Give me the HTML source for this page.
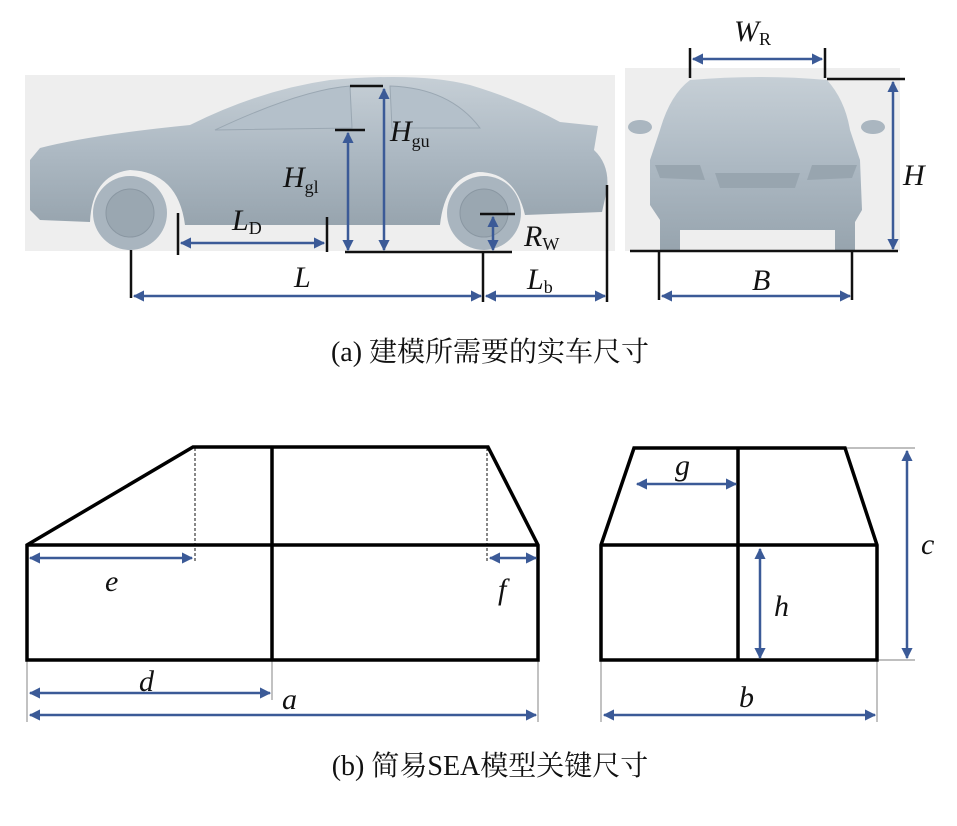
<!DOCTYPE html>
<html><head><meta charset="utf-8"><style>
html,body{margin:0;padding:0;background:#fff;}
svg{display:block;}
text{font-family:"Liberation Serif","Noto Serif CJK SC",serif;fill:#111;}
.it{font-style:italic;}
</style></head><body>
<svg width="957" height="826" viewBox="0 0 957 826" xmlns="http://www.w3.org/2000/svg">
<defs>
<marker id="a" viewBox="0 0 10 10" refX="9" refY="5" markerWidth="4.5" markerHeight="4.5" orient="auto-start-reverse"><path d="M0,0 L10,5 L0,10 z" fill="#3b5a97"/></marker>
<linearGradient id="car" x1="0" y1="0" x2="0" y2="1"><stop offset="0" stop-color="#c6cfd6"/><stop offset="0.5" stop-color="#adb9c3"/><stop offset="1" stop-color="#97a4ae"/></linearGradient>
</defs>
<rect x="25" y="75" width="590" height="176" fill="#eeeeee"/>
<path d="M30,160 L40,148 Q90,135 190,125 Q260,90 330,80 Q420,72 470,85 Q520,100 560,122 L598,126 L594,150 Q610,165 607,190 L602,212 L525,215 Q515,172 478,172 Q445,178 440,225 L185,225 Q178,172 130,170 Q92,175 90,222 L40,220 L30,210 Z" fill="url(#car)"/>
<circle cx="130" cy="213" r="37" fill="#a9b5bf"/><circle cx="130" cy="213" r="24" fill="#9aa7b1" stroke="#8a97a2"/>
<circle cx="484" cy="213" r="37" fill="#a9b5bf"/><circle cx="484" cy="213" r="24" fill="#9aa7b1" stroke="#8a97a2"/>
<path d="M215,130 Q300,90 350,86 L352,128 Z M390,86 Q450,88 480,128 L392,128 Z" fill="#b4c0ca" stroke="#9aa7b2"/>
<rect x="625" y="68" width="275" height="183" fill="#eeeeee"/>
<path d="M690,80 Q760,74 827,80 Q845,100 850,130 L860,160 L862,210 L855,222 L855,250 L835,250 L835,230 L680,230 L680,250 L660,250 L660,220 L650,205 L650,160 L660,130 Q670,95 690,80 Z" fill="url(#car)"/>
<ellipse cx="640" cy="127" rx="12" ry="7" fill="#aab6c0"/><ellipse cx="873" cy="127" rx="12" ry="7" fill="#aab6c0"/>
<path d="M715,173 L800,173 L795,188 L720,188 Z" fill="#98a5af"/>
<path d="M655,165 L700,165 L705,180 L660,178 Z M812,165 L857,165 L852,178 L807,180 Z" fill="#98a5af"/>
<g stroke="#111" stroke-width="2.5" fill="none">
<line x1="350" y1="86" x2="383" y2="86"/>
<line x1="335" y1="130" x2="365" y2="130"/>
<line x1="345" y1="252" x2="512" y2="252"/>
<line x1="178" y1="213" x2="178" y2="255"/>
<line x1="327" y1="217" x2="327" y2="252"/>
<line x1="480" y1="214" x2="515" y2="214"/>
<line x1="131" y1="250" x2="131" y2="298"/>
<line x1="483" y1="252" x2="483" y2="302"/>
<line x1="607" y1="185" x2="607" y2="302"/>
<line x1="690" y1="48" x2="690" y2="78"/>
<line x1="825" y1="48" x2="825" y2="78"/>
<line x1="827" y1="79" x2="905" y2="79"/>
<line x1="630" y1="251" x2="898" y2="251"/>
<line x1="659" y1="251" x2="659" y2="300"/>
<line x1="852" y1="251" x2="852" y2="300"/>
</g>
<g stroke="#3b5a97" stroke-width="2.5" fill="none" marker-start="url(#a)" marker-end="url(#a)">
<line x1="384" y1="89" x2="384" y2="250"/>
<line x1="348" y1="133" x2="348" y2="250"/>
<line x1="181" y1="243" x2="324" y2="243"/>
<line x1="493" y1="217" x2="493" y2="250"/>
<line x1="134" y1="296" x2="481" y2="296"/>
<line x1="486" y1="296" x2="605" y2="296"/>
<line x1="693" y1="59" x2="822" y2="59"/>
<line x1="893" y1="82" x2="893" y2="249"/>
<line x1="662" y1="296" x2="850" y2="296"/>
</g>
<g font-size="30" class="it">
<text x="232" y="230" class="it">L<tspan font-size="18" font-style="normal" dy="4">D</tspan></text>
<text x="283" y="187" class="it">H<tspan font-size="18" font-style="normal" dy="6">gl</tspan></text>
<text x="390" y="141" class="it">H<tspan font-size="18" font-style="normal" dy="6">gu</tspan></text>
<text x="294" y="287" class="it">L</text>
<text x="527" y="289" class="it">L<tspan font-size="18" font-style="normal" dy="4">b</tspan></text>
<text x="524" y="246" class="it">R<tspan font-size="18" font-style="normal" dy="4">W</tspan></text>
<text x="734" y="41" class="it">W<tspan font-size="18" font-style="normal" dy="4">R</tspan></text>
<text x="903" y="185" class="it">H</text>
<text x="752" y="290" class="it">B</text>
</g>
<text x="490" y="361" font-size="28" text-anchor="middle">(a) 建模所需要的实车尺寸</text>
<g stroke="#999" stroke-width="1.2" fill="none">
<line x1="27" y1="660" x2="27" y2="722"/>
<line x1="272" y1="660" x2="272" y2="700"/>
<line x1="538" y1="660" x2="538" y2="722"/>
<line x1="601" y1="660" x2="601" y2="722"/>
<line x1="877" y1="660" x2="877" y2="722"/>
<line x1="845" y1="448" x2="915" y2="448"/>
<line x1="877" y1="660" x2="915" y2="660"/>
</g>
<g stroke="#111" stroke-width="1" stroke-dasharray="3,2">
<line x1="195" y1="448" x2="195" y2="562"/>
<line x1="487" y1="448" x2="487" y2="562"/>
</g>
<g stroke="#000" stroke-width="3.5" fill="none" stroke-linejoin="miter">
<path d="M27,545 L193,447 L488,447 L538,545 L538,660 L27,660 Z"/>
<line x1="27" y1="545" x2="538" y2="545"/>
<line x1="272" y1="447" x2="272" y2="660"/>
<path d="M601,545 L634,448 L845,448 L877,545 L877,660 L601,660 Z"/>
<line x1="601" y1="545" x2="877" y2="545"/>
<line x1="738" y1="448" x2="738" y2="660"/>
</g>
<g stroke="#3b5a97" stroke-width="2.5" fill="none" marker-start="url(#a)" marker-end="url(#a)">
<line x1="30" y1="558" x2="192" y2="558"/>
<line x1="490" y1="558" x2="536" y2="558"/>
<line x1="30" y1="693" x2="270" y2="693"/>
<line x1="30" y1="715" x2="536" y2="715"/>
<line x1="637" y1="484" x2="736" y2="484"/>
<line x1="760" y1="549" x2="760" y2="658"/>
<line x1="907" y1="451" x2="907" y2="658"/>
<line x1="604" y1="715" x2="875" y2="715"/>
</g>
<g font-size="30" font-style="italic">
<text x="105" y="591">e</text>
<text x="498" y="599">f</text>
<text x="139" y="691">d</text>
<text x="282" y="709">a</text>
<text x="675" y="475">g</text>
<text x="774" y="616">h</text>
<text x="921" y="554">c</text>
<text x="739" y="707">b</text>
</g>
<text x="490" y="775" font-size="28" text-anchor="middle">(b) 简易SEA模型关键尺寸</text>
</svg>
</body></html>
